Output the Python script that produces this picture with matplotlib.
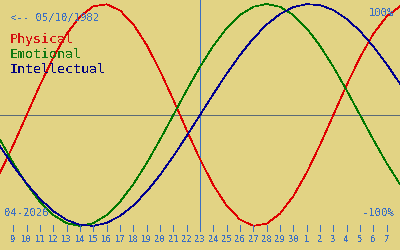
import matplotlib
matplotlib.use('Agg')
import matplotlib.pyplot as plt
import matplotlib.transforms as mtransforms

# days shown (April 8 .. May 8, 2026), centre day = 23 April
days = list(range(8, 39))
day_labels = [str(d) for d in range(9, 31)] + [str(d) for d in range(1, 8)]
tick_days = list(range(9, 38))
today = 23

physical = [-0.5196, -0.2698, 0.0, 0.2698, 0.5196, 0.7308, 0.8879, 0.9791,
            0.9977, 0.9423, 0.8170, 0.6311, 0.3984, 0.1362, -0.1362, -0.3984,
            -0.6311, -0.8170, -0.9423, -0.9977, -0.9791, -0.8879, -0.7308,
            -0.5196, -0.2698, 0.0, 0.2698, 0.5196, 0.7308, 0.8879, 0.9791]
emotional = [-0.2225, -0.4339, -0.6235, -0.7818, -0.9010, -0.9749, -1.0,
             -0.9749, -0.9010, -0.7818, -0.6235, -0.4339, -0.2225, 0.0, 0.2225,
             0.4339, 0.6235, 0.7818, 0.9010, 0.9749, 1.0, 0.9749, 0.9010,
             0.7818, 0.6235, 0.4339, 0.2225, 0.0, -0.2225, -0.4339, -0.6235]
intellectual = [-0.2817, -0.4582, -0.6182, -0.7557, -0.8660, -0.9450, -0.9898,
                -0.9989, -0.9718, -0.9096, -0.8146, -0.6901, -0.5406, -0.3717,
                -0.1893, 0.0, 0.1893, 0.3717, 0.5406, 0.6901, 0.8146, 0.9096,
                0.9718, 0.9989, 0.9898, 0.9450, 0.8660, 0.7557, 0.6182, 0.4582,
                0.2817]

bg = '#e2d384'
blue = '#3a6ec4'
mono = 'DejaVu Sans Mono'
lw = 0.5

plt.rcParams['text.antialiased'] = False

fig = plt.figure(figsize=(4, 2.5), dpi=100, facecolor=bg)
ax = fig.add_axes([0, 0, 1, 1])
ax.set_facecolor(bg)
ax.set_xlim(8, 38)
ax.set_ylim(-1.216, 1.036)
ax.set_axis_off()

ax.axhline(0, color='#5a6a78', lw=lw, antialiased=False)
ax.axvline(today, ymin=0.08, ymax=1, color=blue, lw=lw, antialiased=False)

ax.plot(days, physical, color='#e00000', lw=lw, antialiased=False)
ax.plot(days, emotional, color='#007800', lw=lw, antialiased=False)
ax.plot(days, intellectual, color='#000090', lw=lw, antialiased=False)

# day ticks along the bottom
trans = mtransforms.blended_transform_factory(ax.transData, ax.transAxes)
ax.vlines(tick_days, 1 - 231 / 250, 1 - 225 / 250, transform=trans,
          color=blue, lw=lw, antialiased=False)
for d, lab in zip(tick_days, day_labels):
    ax.text(d, 1 - 242 / 250, lab, transform=trans, ha='center',
            va='baseline', fontsize=6.4, color=blue, family=mono)

def px(x, y):
    return x / 400, 1 - y / 250

ax.text(*px(10, 21), '<-- 05/10/1982', transform=ax.transAxes, fontsize=7.6,
        color=blue, family=mono, va='baseline')
ax.text(*px(10, 43), 'Physical', transform=ax.transAxes, fontsize=9.6,
        color='#d41010', family=mono, va='baseline')
ax.text(*px(10, 58), 'Emotional', transform=ax.transAxes, fontsize=9.6,
        color='#107810', family=mono, va='baseline')
ax.text(*px(10, 73), 'Intellectual', transform=ax.transAxes, fontsize=9.6,
        color='#000080', family=mono, va='baseline')
ax.text(*px(394, 16), '100%', transform=ax.transAxes, fontsize=7.6,
        color=blue, family=mono, va='baseline', ha='right')
ax.text(*px(394, 216), '-100%', transform=ax.transAxes, fontsize=7.6,
        color=blue, family=mono, va='baseline', ha='right')
ax.text(*px(4, 216), '04-2026', transform=ax.transAxes, fontsize=7.6,
        color=blue, family=mono, va='baseline')

fig.savefig('out.png', dpi=100, facecolor=bg)
